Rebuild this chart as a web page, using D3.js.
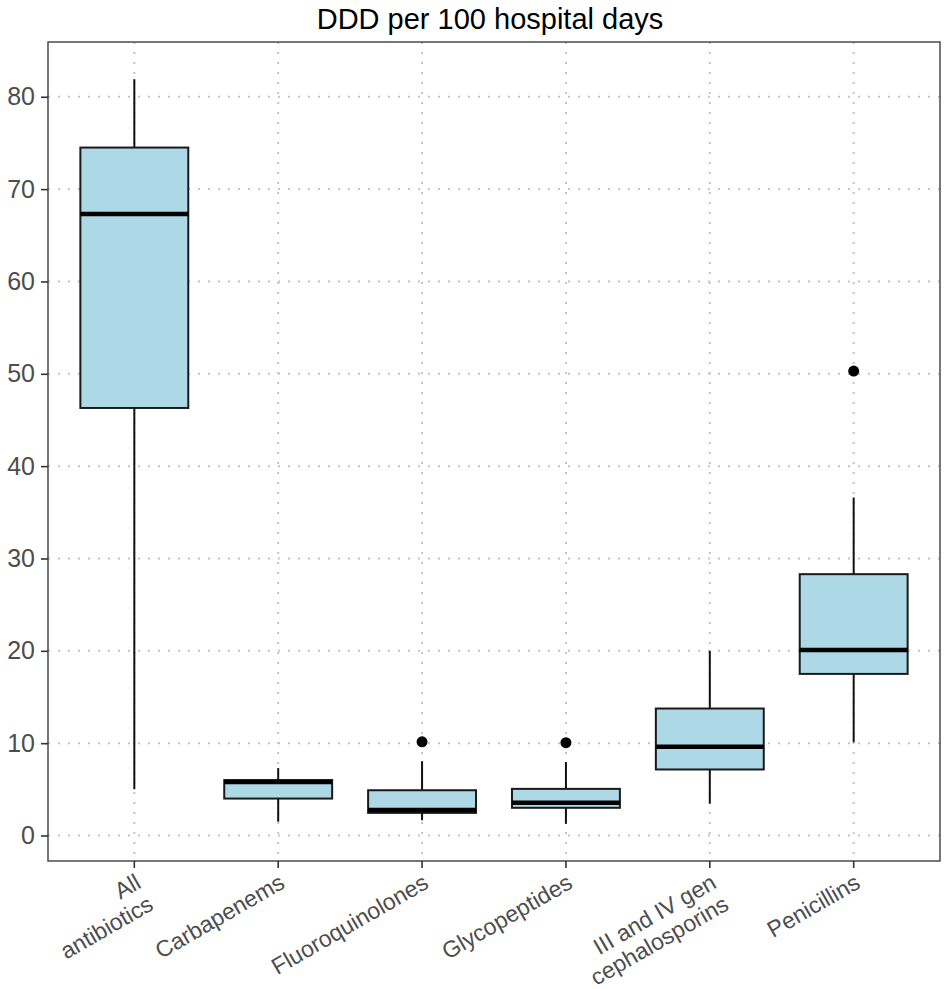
<!DOCTYPE html>
<html>
<head>
<meta charset="utf-8">
<script src="https://cdn.jsdelivr.net/npm/d3@7"></script>
<style>
  body { margin: 0; background: #fff; }
  text { font-family: "Liberation Sans", Arial, Helvetica, sans-serif; }
</style>
</head>
<body>
<script>
// box plot values
var categories = ["All\nantibiotics", "Carbapenems", "Fluoroquinolones", "Glycopeptides", "III and IV gen\ncephalosporins", "Penicillins"]
var lowWhisker = [5.0, 1.5, 1.65, 1.27, 3.45, 10.1]
var q1 = [46.3, 4.0, 2.45, 3.0, 7.15, 17.5]
var medians = [67.3, 5.8, 2.75, 3.55, 9.6, 20.1]
var q3 = [74.5, 6.0, 4.9, 5.05, 13.75, 28.3]
var highWhisker = [81.9, 7.3, 8.05, 7.95, 20.0, 36.6]
var outliers = [[], [], [10.15], [10.05], [], [50.3]]
var yTicks = [0, 10, 20, 30, 40, 50, 60, 70, 80]

var W = 944, H = 989
var pLeft = 48, pRight = 940, pTop = 42, pBottom = 861

var svg = d3.select("body").append("svg")
    .attr("width", W)
    .attr("height", H)

// ggplot style 5% expansion on y
var allVals = lowWhisker.concat(highWhisker, outliers.flat())
var lo = d3.min(allVals), hi = d3.max(allVals)
var pad = (hi - lo) * 0.05

var y = d3.scaleLinear()
    .domain([lo - pad, hi + pad])
    .range([pBottom, pTop])

var x = d3.scalePoint()
    .domain(categories)
    .range([pLeft, pRight])
    .padding(0.6)

var step = x.step()
var boxW = step * 0.75

// grid
var grid = svg.append("g")
grid.selectAll(".hg")
    .data(yTicks)
    .enter()
    .append("line")
    .attr("x1", pLeft).attr("x2", pRight)
    .attr("y1", d => y(d)).attr("y2", d => y(d))
    .attr("stroke", "#c4c4c4")
    .attr("stroke-width", 2)
    .attr("stroke-dasharray", "2,8")
grid.selectAll(".vg")
    .data(categories)
    .enter()
    .append("line")
    .attr("x1", d => x(d)).attr("x2", d => x(d))
    .attr("y1", pTop).attr("y2", pBottom)
    .attr("stroke", "#c4c4c4")
    .attr("stroke-width", 2)
    .attr("stroke-dasharray", "2,8")

// boxes
var boxes = svg.append("g")
    .selectAll("g")
    .data(categories)
    .enter()
    .append("g")

boxes.append("line")
    .attr("x1", d => x(d)).attr("x2", d => x(d))
    .attr("y1", (d, i) => y(highWhisker[i]))
    .attr("y2", (d, i) => y(q3[i]))
    .attr("stroke", "#111").attr("stroke-width", 2)
boxes.append("line")
    .attr("x1", d => x(d)).attr("x2", d => x(d))
    .attr("y1", (d, i) => y(q1[i]))
    .attr("y2", (d, i) => y(lowWhisker[i]))
    .attr("stroke", "#111").attr("stroke-width", 2)

boxes.append("rect")
    .attr("x", d => x(d) - boxW / 2)
    .attr("width", boxW)
    .attr("y", (d, i) => y(q3[i]))
    .attr("height", (d, i) => y(q1[i]) - y(q3[i]))
    .attr("fill", "#add8e6")
    .attr("stroke", "#1a1a1a")
    .attr("stroke-width", 2)

boxes.append("line")
    .attr("x1", d => x(d) - boxW / 2).attr("x2", d => x(d) + boxW / 2)
    .attr("y1", (d, i) => y(medians[i]))
    .attr("y2", (d, i) => y(medians[i]))
    .attr("stroke", "#000").attr("stroke-width", 4.5)

boxes.each(function (d, i) {
    d3.select(this).selectAll("circle")
        .data(outliers[i])
        .enter()
        .append("circle")
        .attr("cx", x(d))
        .attr("cy", v => y(v))
        .attr("r", 5.5)
        .attr("fill", "#000")
})

// panel border
svg.append("rect")
    .attr("x", pLeft).attr("y", pTop)
    .attr("width", pRight - pLeft).attr("height", pBottom - pTop)
    .attr("fill", "none")
    .attr("stroke", "#555")
    .attr("stroke-width", 1.6)

// y axis
var yAxis = svg.append("g")
    .attr("transform", "translate(" + pLeft + ",0)")
    .call(d3.axisLeft(y).tickValues(yTicks).tickSize(7).tickPadding(6))
yAxis.select(".domain").remove()
yAxis.selectAll(".tick line").attr("stroke", "#333").attr("stroke-width", 1.6)
yAxis.selectAll(".tick text")
    .attr("font-size", 25)
    .attr("fill", "#4d4d4d")

// x axis ticks
svg.append("g")
    .selectAll("line")
    .data(categories)
    .enter()
    .append("line")
    .attr("x1", d => x(d)).attr("x2", d => x(d))
    .attr("y1", pBottom).attr("y2", pBottom + 7)
    .attr("stroke", "#333").attr("stroke-width", 1.6)

// x labels, rotated 30 deg, right aligned
var lineH = 25
var xl = svg.append("g")
    .selectAll("text")
    .data(categories)
    .enter()
    .append("text")
    .attr("transform", d => "translate(" + (x(d) + 8) + "," + (pBottom + 26) + ") rotate(-30)")
    .attr("text-anchor", "end")
    .attr("font-size", 23)
    .attr("fill", "#4d4d4d")
xl.selectAll("tspan")
    .data(d => d.split("\n"))
    .enter()
    .append("tspan")
    .attr("x", 0)
    .attr("dy", (d, i) => i == 0 ? 0 : lineH)
    .text(d => d)

// title
svg.append("text")
    .attr("x", 490)
    .attr("y", 29)
    .attr("text-anchor", "middle")
    .attr("font-size", 29)
    .attr("fill", "#000")
    .text("DDD per 100 hospital days")
</script>
</body>
</html>
